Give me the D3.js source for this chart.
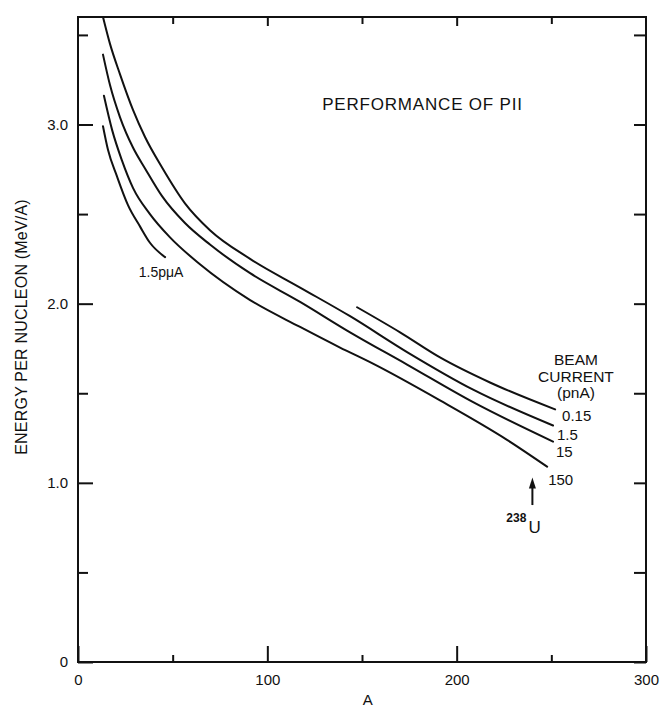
<!DOCTYPE html>
<html>
<head>
<meta charset="utf-8">
<script src="https://cdnjs.cloudflare.com/ajax/libs/d3/7.8.5/d3.min.js"></script>
<style>
  body { margin: 0; background: #fff; }
  svg text { font-family: "Liberation Sans", Arial, sans-serif; fill: #111; }
  .axis path { display: none; }
  .axis line { stroke: #111; stroke-width: 2; }
  .curve { fill: none; stroke: #111; stroke-width: 2; stroke-linecap: round; }
</style>
</head>
<body>
<script>
// mass number A vs energy per nucleon (MeV/A)
const curve015 = [[147.4,1.98],[170.1,1.84],[191.2,1.70],[217.6,1.56],[252.0,1.41]];
const curve1p5 = [[13.2,3.60],[16.9,3.45],[22.2,3.28],[29.1,3.08],[35.4,2.93],[44.4,2.76],[56.5,2.56],[69.7,2.41],[90.9,2.25],[117.3,2.09],[143.7,1.93],[173.8,1.73],[208.7,1.52],[250.9,1.32]];
const curve15 = [[13.2,3.39],[16.9,3.22],[22.2,3.04],[29.1,2.87],[35.4,2.755],[44.4,2.60],[56.5,2.45],[69.7,2.33],[90.9,2.17],[117.3,2.01],[143.7,1.84],[173.8,1.66],[208.7,1.45],[250.9,1.23]];
const curve150 = [[13.7,3.16],[18.0,2.97],[23.2,2.80],[29.1,2.645],[38.0,2.50],[48.6,2.37],[64.4,2.22],[90.9,2.02],[117.3,1.87],[138.4,1.755],[155.8,1.665],[191.2,1.46],[226.6,1.24],[247.8,1.09]];
const curve1p5uA = [[13.2,2.99],[15.8,2.86],[20.6,2.71],[26.4,2.55],[32.8,2.43],[38.0,2.34],[46.0,2.26]];

const currentLabels = ["0.15", "1.5", "15", "150"];
const xMajorTicks = [0, 100, 200, 300];
const xMinorTicks = [50, 150, 250];
const yMajorTicks = [0, 1, 2, 3];
const yMinorTicks = [0.5, 1.5, 2.5, 3.5];

const w = 669;
const h = 708;
const margin = { top: 17, bottom: 46, left: 78, right: 23 };

function render(){
  const width = w - (margin.left + margin.right);
  const height = h - (margin.top + margin.bottom);

  const svg = d3.select("body")
                .append("svg")
                .attr("width", w)
                .attr("height", h);

  const chart = svg.append("g")
                   .attr("transform", "translate(" + margin.left + "," + margin.top + ")");

  const x = d3.scaleLinear().domain([0, 300]).range([0, width]);
  const y = d3.scaleLinear().domain([0, 3.6]).range([height, 0]);

  // bottom axis, ticks pointing in
  chart.append("g").classed("axis", true)
       .attr("transform", "translate(0," + height + ")")
       .call(d3.axisBottom(x).tickValues(xMajorTicks).tickSize(-16).tickPadding(12).tickFormat(d3.format("d")))
       .selectAll("text").style("font-size", "15px");
  chart.append("g").classed("axis", true)
       .attr("transform", "translate(0," + height + ")")
       .call(d3.axisBottom(x).tickValues(xMinorTicks).tickSize(-7).tickFormat(""));

  // top axis
  chart.append("g").classed("axis", true)
       .call(d3.axisTop(x).tickValues(xMinorTicks).tickSize(-7).tickFormat(""));
  chart.append("g").classed("axis", true)
       .call(d3.axisTop(x).tickValues([100, 200]).tickSize(-9).tickFormat(""));

  // left axis
  chart.append("g").classed("axis", true)
       .call(d3.axisLeft(y).tickValues(yMajorTicks).tickSize(-15).tickPadding(10)
               .tickFormat(function(d){ return d === 0 ? "0" : d3.format(".1f")(d); }))
       .selectAll("text").style("font-size", "15px");
  chart.append("g").classed("axis", true)
       .call(d3.axisLeft(y).tickValues(yMinorTicks).tickSize(-10).tickFormat(""));

  // right axis
  chart.append("g").classed("axis", true)
       .attr("transform", "translate(" + width + ",0)")
       .call(d3.axisRight(y).tickValues(yMajorTicks.concat(yMinorTicks)).tickSize(-12).tickFormat(""));

  // frame
  chart.append("rect")
       .attr("width", width).attr("height", height)
       .attr("fill", "none").attr("stroke", "#111").attr("stroke-width", 2);

  const line = d3.line()
                 .x(function(d){ return x(d[0]); })
                 .y(function(d){ return y(d[1]); })
                 .curve(d3.curveMonotoneX);

  const curves = [curve015, curve1p5, curve15, curve150];
  chart.selectAll(".curve")
       .data(curves.concat([curve1p5uA]))
       .enter()
       .append("path")
       .classed("curve", true)
       .attr("d", line);

  // curve end labels
  const labelOffsets = [[7, 12], [4, 14], [3, 15], [1, 18]];
  chart.selectAll(".endlabel")
       .data(curves)
       .enter()
       .append("text")
       .classed("endlabel", true)
       .attr("x", function(d, i){ return x(d[d.length - 1][0]) + labelOffsets[i][0]; })
       .attr("y", function(d, i){ return y(d[d.length - 1][1]) + labelOffsets[i][1]; })
       .style("font-size", "15px")
       .text(function(d, i){ return currentLabels[i]; });

  const last = curve1p5uA[curve1p5uA.length - 1];
  chart.append("text")
       .attr("x", x(last[0]) - 4).attr("y", y(last[1]) + 20)
       .attr("text-anchor", "middle")
       .style("font-size", "14px")
       .text("1.5pμA");

  // legend header
  const header = chart.append("text")
                      .attr("text-anchor", "middle")
                      .style("font-size", "15.5px");
  ["BEAM", "CURRENT", "(pnA)"].forEach(function(t, i){
    header.append("tspan").attr("x", x(263)).attr("y", y(1.657) + i * 16.5).text(t);
  });

  // title
  chart.append("text")
       .attr("x", x(129)).attr("y", y(3.08))
       .style("font-size", "17px").style("letter-spacing", "0.8px")
       .text("PERFORMANCE OF PII");

  // 238U marker
  chart.append("line")
       .attr("x1", x(240)).attr("x2", x(240))
       .attr("y1", y(0.876)).attr("y2", y(0.99))
       .attr("stroke", "#111").attr("stroke-width", 2);
  chart.append("path")
       .attr("d", "M" + x(240) + "," + y(1.03) + "l-3.5,11h7z")
       .attr("fill", "#111");
  chart.append("text")
       .attr("x", x(240) - 6).attr("y", y(0.78))
       .attr("text-anchor", "end")
       .style("font-size", "12px").style("font-weight", "bold")
       .text("238");
  chart.append("text")
       .attr("x", x(240) - 4).attr("y", y(0.72))
       .style("font-size", "17px")
       .text("U");

  // axis titles
  chart.append("text")
       .attr("x", x(153)).attr("y", height + 43)
       .attr("text-anchor", "middle")
       .style("font-size", "15px")
       .text("A");
  chart.append("text")
       .attr("transform", "translate(" + (-51) + "," + y(1.87) + ") rotate(-90)")
       .attr("text-anchor", "middle")
       .style("font-size", "16px").style("letter-spacing", "0.2px")
       .text("ENERGY PER NUCLEON  (MeV/A)");
}

render();
</script>
</body>
</html>
